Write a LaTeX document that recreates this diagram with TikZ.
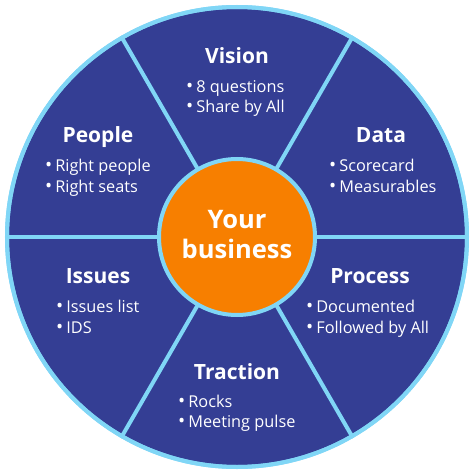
\documentclass[tikz,border=0pt]{standalone}
\usepackage{fontspec}
\setmainfont{Open Sans}
\definecolor{darkblue}{RGB}{52,62,148}
\definecolor{lightblue}{RGB}{128,214,246}
\definecolor{orangefill}{RGB}{247,127,0}
\tikzset{
  sectortitle/.style={anchor=base, text=white, font=\bfseries\fontsize{21}{24}\selectfont, inner sep=0pt},
  bulletline/.style={anchor=base west, text=white, font=\fontsize{16.3}{18}\selectfont, inner sep=0pt},
  centertext/.style={anchor=base, text=white, font=\bfseries\fontsize{25.5}{30}\selectfont, inner sep=0pt},
  divider/.style={draw=lightblue, line width=4pt}
}
\newcommand{\bitem}[1]{{\fontsize{19}{18}\selectfont\textbullet}\hspace{3pt}#1}
\begin{document}
\begin{tikzpicture}[x=1pt,y=1pt]
\useasboundingbox[fill=white] (-237,-237) rectangle (237,237);
% outer wheel
\node[circle, minimum size=460pt, inner sep=0pt, fill=darkblue, draw=lightblue, line width=4pt] (wheel) at (0,0) {};
% center circle
\node[circle, minimum size=156pt, inner sep=0pt, fill=orangefill] (hub) at (0,0) {};
% dividers
\foreach \a in {0,60,120,180,240,300}{
  \draw[divider] (hub.\a) -- (wheel.\a);
}
\draw[draw=lightblue, line width=4pt] (hub.center) circle (78pt);
\draw[draw=lightblue, line width=4pt] (wheel.center) circle (230pt);
% center text
\node[centertext] (your) at (0,9) {Your};
\node[centertext] (business) at (0,-21) {business};
% Vision
\node[sectortitle] (vision) at (0,173) {Vision};
\node[bulletline] (v1) at (-51,144) {\bitem{8 questions}};
\node[bulletline] (v2) at (-51,124) {\bitem{Share by All}};
% People
\node[sectortitle] (people) at (-139,95) {People};
\node[bulletline] (p1) at (-192,66) {\bitem{Right people}};
\node[bulletline] (p2) at (-192,45) {\bitem{Right seats}};
% Data
\node[sectortitle] (data) at (144,95) {Data};
\node[bulletline] (d1) at (92,66) {\bitem{Scorecard}};
\node[bulletline] (d2) at (92,45) {\bitem{Measurables}};
% Issues
\node[sectortitle] (issues) at (-139,-46) {Issues};
\node[bulletline] (i1) at (-181,-75) {\bitem{Issues list}};
\node[bulletline] (i2) at (-181,-96) {\bitem{IDS}};
% Process
\node[sectortitle] (process) at (133,-46) {Process};
\node[bulletline] (r1) at (69,-75) {\bitem{Documented}};
\node[bulletline] (r2) at (69,-96) {\bitem{Followed by All}};
% Traction
\node[sectortitle] (traction) at (0,-142) {Traction};
\node[bulletline] (t1) at (-59,-170) {\bitem{Rocks}};
\node[bulletline] (t2) at (-59,-190) {\bitem{Meeting pulse}};
\end{tikzpicture}
\end{document}
